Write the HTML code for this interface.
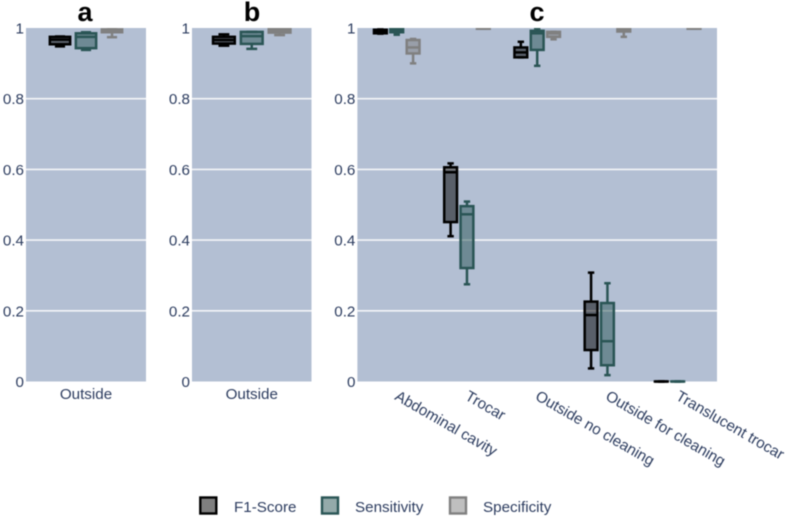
<!DOCTYPE html>
<html lang="en">
<head>
<meta charset="utf-8">
<title>Box plots of F1-Score, Sensitivity and Specificity</title>
<style>
html,body{margin:0;padding:0;background:#fff;width:788px;height:518px;overflow:hidden}
svg{display:block;filter:blur(.45px)}
text{font-family:"Liberation Sans",Arial,sans-serif}
.tick{font-size:15.2px;fill:#2c3c5f}
.title{font-size:27px;font-weight:bold;fill:#000;text-anchor:middle}
</style>
</head>
<body>
<svg id="chart" width="788" height="518" viewBox="0 0 788 518" xmlns="http://www.w3.org/2000/svg">
  <defs>
    <clipPath id="plot-clip"><rect x="0" y="28" width="788" height="356"/></clipPath>
  </defs>
  <text class="title" x="85" y="21">a</text>
  <text class="title" x="252" y="21">b</text>
  <text class="title" x="537" y="21">c</text>
  <g id="panels"></g>
  <g>
    <g>
      <rect x="200.3" y="497.5" width="16" height="16" fill="#000" fill-opacity=".5" stroke="#000" stroke-width="2.4"/>
      <text class="tick" x="234" y="512">F1-Score</text>
    </g>
    <g>
      <rect x="322" y="497.5" width="16" height="16" fill="#2a5555" fill-opacity=".5" stroke="#2a5555" stroke-width="2.4"/>
      <text class="tick" x="355" y="512">Sensitivity</text>
    </g>
    <g>
      <rect x="450" y="497.5" width="16" height="16" fill="#808080" fill-opacity=".5" stroke="#808080" stroke-width="2.4"/>
      <text class="tick" x="483" y="512">Specificity</text>
    </g>
  </g>
</svg>
<script>
// Shared axis data
const tickValues = [0, 0.2, 0.4, 0.6, 0.8, 1];
const tickLabels = ['0', '0.2', '0.4', '0.6', '0.8', '1'];

// Each box is [min, q1, median, q3, max]
const categoriesA = ['Outside'];
const f1A = [[0.948, 0.954, 0.967, 0.975, 0.976]];
const sensA = [[0.938, 0.943, 0.975, 0.985, 0.988]];
const specA = [[0.974, 0.988, 0.994, 0.996, 1]];

const categoriesB = ['Outside'];
const f1B = [[0.950, 0.956, 0.966, 0.975, 0.982]];
const sensB = [[0.941, 0.955, 0.977, 0.989, 0.989]];
const specB = [[0.980, 0.987, 0.993, 0.997, 1]];

const categoriesC = ['Abdominal cavity', 'Trocar', 'Outside no cleaning', 'Outside for cleaning', 'Translucent trocar'];
const f1C = [
  [0.984, 0.985, 0.990, 0.995, 0.996],
  [0.411, 0.451, 0.592, 0.606, 0.617],
  [0.917, 0.917, 0.931, 0.945, 0.961],
  [0.037, 0.089, 0.188, 0.226, 0.308],
  [0, 0, 0, 0, 0]
];
const sensC = [
  [0.981, 0.988, 0.993, 0.999, 1],
  [0.275, 0.321, 0.473, 0.496, 0.509],
  [0.893, 0.938, 0.985, 0.992, 0.999],
  [0.018, 0.046, 0.114, 0.222, 0.278],
  [0, 0, 0, 0, 0]
];
const specC = [
  [0.900, 0.928, 0.945, 0.966, 0.969],
  [0.998, 0.998, 0.999, 1, 1],
  [0.968, 0.975, 0.985, 0.989, 0.989],
  [0.975, 0.990, 0.995, 0.999, 1],
  [0.998, 0.998, 0.999, 1, 1]
];

const NS = 'http://www.w3.org/2000/svg';
const root = document.getElementById('panels');
const plotTop = 28;
const plotBottom = 381.5;
const yScale = v => plotBottom - (plotBottom - plotTop) * v;

const panels = [
  { id: 'a', left: 26, right: 146, domain: [-0.5376, 0.5376], categories: categoriesA, f1: f1A, sens: sensA, spec: specA, tilt: false },
  { id: 'b', left: 192, right: 311.5, domain: [-0.5, 0.5], categories: categoriesB, f1: f1B, sens: sensB, spec: specB, tilt: false },
  { id: 'c', left: 357.4, right: 717, domain: [-0.56, 4.56], categories: categoriesC, f1: f1C, sens: sensC, spec: specC, tilt: true }
];

function make(tag, parent, attrs) {
  const el = document.createElementNS(NS, tag);
  for (const k in attrs) el.setAttribute(k, attrs[k]);
  parent.appendChild(el);
  return el;
}

panels.forEach(p => {
  const xScale = c => p.left + (c - p.domain[0]) / (p.domain[1] - p.domain[0]) * (p.right - p.left);
  const unit = (p.right - p.left) / (p.domain[1] - p.domain[0]);
  const g = make('g', root, {});
  
  

  const bg = make('rect', g, { x: p.left, y: plotTop, width: p.right - p.left, height: plotBottom - plotTop, fill: '#b3bfd3' });
  
  

  tickValues.forEach((v, i) => {
    if (v > 0 && v < 1) {
      const grid = make('line', g, { x1: p.left, x2: p.right, y1: yScale(v), y2: yScale(v), stroke: '#f4f5f8', 'stroke-width': 1.6 });
      
      
    }
    const label = make('text', g, { class: 'tick', x: p.left - 2, y: yScale(v) + 5.5, 'text-anchor': 'end' });
    label.textContent = tickLabels[i];
    
    
  });

  const marks = make('g', g, { 'clip-path': 'url(#plot-clip)' });
  
  

  p.categories.forEach((cat, i) => {
    const cx = xScale(i);
    const label = make('text', g, { class: 'tick' });
    label.textContent = cat;
    if (p.tilt) {
      label.setAttribute('text-anchor', 'start');
      label.setAttribute('transform', 'translate(' + (cx - 2.8) + ',399) rotate(30)');
    } else {
      label.setAttribute('text-anchor', 'middle');
      label.setAttribute('x', cx);
      label.setAttribute('y', 399);
    }
    
    

    const series = [
      { key: 'f1-score', values: p.f1, color: '#000000', off: -0.233 },
      { key: 'sensitivity', values: p.sens, color: '#2a5555', off: 0 },
      { key: 'specificity', values: p.spec, color: '#808080', off: 0.233 }
    ];
    series.forEach(s => {
      const [min, q1, med, q3, max] = s.values[i];
      const bx = xScale(i + s.off);
      const half = 0.091 * unit;
      const cap = half * 0.5;
      const box = make('g', marks, { stroke: s.color, 'stroke-width': 2.5, fill: 'none' });
      
      
      make('line', box, { x1: bx, x2: bx, y1: yScale(max), y2: yScale(q3) });
      make('line', box, { x1: bx, x2: bx, y1: yScale(q1), y2: yScale(min) });
      make('line', box, { x1: bx - cap, x2: bx + cap, y1: yScale(max), y2: yScale(max) });
      make('line', box, { x1: bx - cap, x2: bx + cap, y1: yScale(min), y2: yScale(min) });
      make('rect', box, { x: bx - half, y: yScale(q3), width: half * 2, height: Math.max(yScale(q1) - yScale(q3), 0.01), fill: s.color, 'fill-opacity': 0.5 });
      make('line', box, { x1: bx - half, x2: bx + half, y1: yScale(med), y2: yScale(med) });
    });
  });
});
</script>
</body>
</html>
